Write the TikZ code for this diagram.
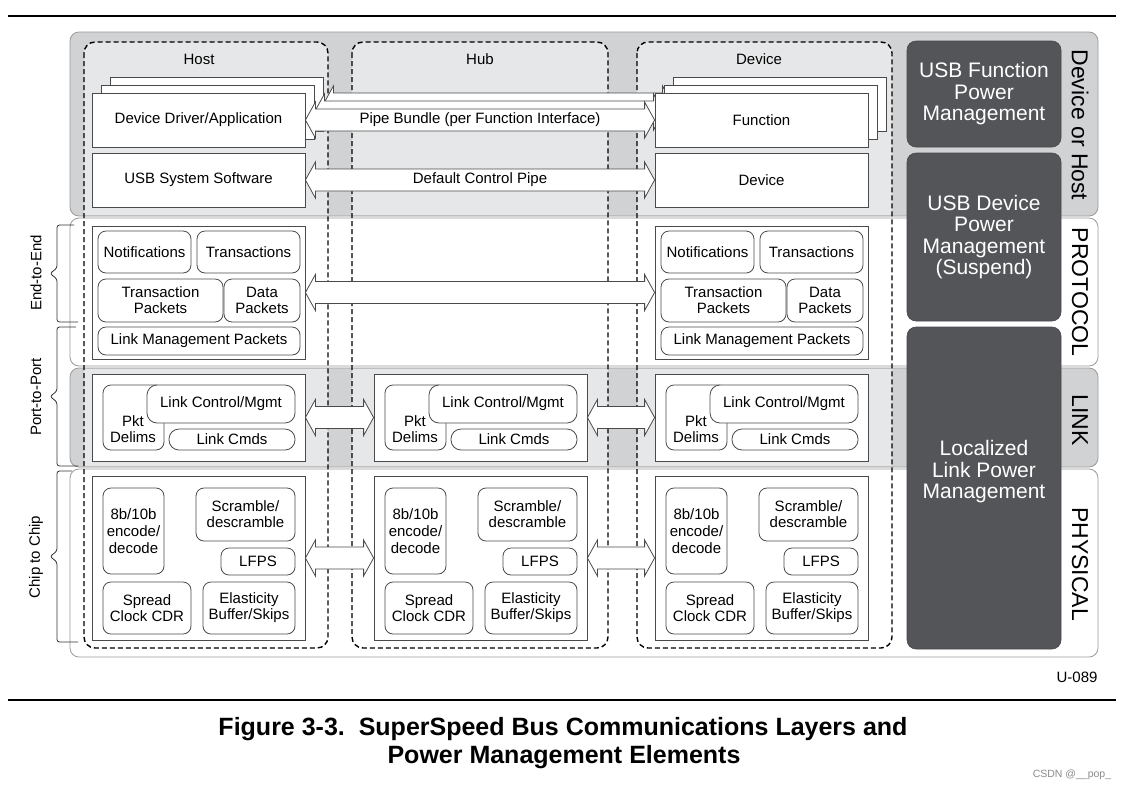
\documentclass[tikz,border=0pt]{standalone}
\usepackage{fontspec}
\setmainfont{Liberation Sans}
\usetikzlibrary{calc}
\definecolor{bandgrey}{HTML}{D1D2D4}
\definecolor{colgrey}{HTML}{E6E7E8}
\definecolor{darkbox}{HTML}{545559}
\definecolor{edge}{HTML}{4A4A4A}
\definecolor{bandedge}{HTML}{9A9A9A}

\newcommand\mkbox[7]{%
  \pgfmathsetmacro\mbX{(#2+#4)/2}%
  \pgfmathsetmacro\mbY{(#3+#5)/2}%
  \pgfmathsetmacro\mbW{#4-#2}%
  \pgfmathsetmacro\mbH{#5-#3}%
  \node[#6, minimum width=\mbW pt, minimum height=\mbH pt] (#1) at (\mbX,\mbY) {#7};}

\newcommand\dblarrow[2]{%
  \draw[pipearrow] let \p1=(#1.east), \p2=(#2.west) in
    (\x1,\y1) -- (\x1+10pt,\y1+18pt) -- (\x1+10pt,\y1+11pt) -- (\x2-10pt,\y1+11pt)
    -- (\x2-10pt,\y1+18pt) -- (\x2,\y1) -- (\x2-10pt,\y1-18pt) -- (\x2-10pt,\y1-11pt)
    -- (\x1+10pt,\y1-11pt) -- (\x1+10pt,\y1-18pt) -- cycle;}

\newcommand\protoblk[1]{%
  \mkbox{#1P}{92}{226}{305}{359}{sqbox}{}%
  \mkbox{#1Pn}{98}{231}{191}{273}{rbox}{Notifications}%
  \mkbox{#1Pt}{197}{231}{300}{273}{rbox}{Transactions}%
  \mkbox{#1Ptp}{98}{279}{223}{322}{rbox}{Transaction\\Packets}%
  \mkbox{#1Pdp}{224}{279}{300}{322}{rbox}{Data\\Packets}%
  \mkbox{#1Plm}{98}{327}{300}{355}{rbox}{Link Management Packets}}

\newcommand\linkblk[1]{%
  \mkbox{#1L}{92}{374}{305}{461}{sqbox}{}%
  \mkbox{#1Lpd}{103}{385}{164}{450}{rbox}{}%
  \node[align=center] (#1Lpdt) at (133,429) {Pkt\\Delims};%
  \mkbox{#1Lcm}{147}{385}{295}{423}{rbox, rounded corners=10pt}{Link Control/Mgmt}%
  \mkbox{#1Lcd}{169}{429}{295}{450}{pillbox}{Link Cmds}}

\newcommand\physblk[1]{%
  \mkbox{#1Y}{92}{476}{305}{640}{sqbox}{}%
  \mkbox{#1Yenc}{103}{488}{164}{574}{rbox, font=\fontsize{15}{16.8}\selectfont}{8b/10b\\encode/\\decode}%
  \mkbox{#1Yscr}{196}{488}{295}{541}{rbox}{Scramble/\\descramble}%
  \mkbox{#1Ylf}{221}{548}{295}{575}{rbox}{LFPS}%
  \mkbox{#1Ysp}{103}{582}{191}{634}{rbox}{Spread\\Clock CDR}%
  \mkbox{#1Yel}{203}{582}{295}{634}{rbox}{Elasticity\\Buffer/Skips}}

\begin{document}
\begin{tikzpicture}[x=1pt,y=-1pt,
  font=\fontsize{15}{16.2}\selectfont,
  sqbox/.style={draw=edge, fill=white, line width=0.8pt, inner sep=0pt, align=center},
  rbox/.style={sqbox, rounded corners=8pt},
  pillbox/.style={sqbox, rounded corners=10pt},
  darkpm/.style={fill=darkbox, draw=darkbox!85!black, line width=0.6pt, rounded corners=9pt, inner sep=0pt},
  pmtext/.style={text=white, font=\fontsize{21}{21.5}\selectfont, align=center},
  sidelbl/.style={rotate=-90, font=\fontsize{23}{25}\selectfont},
  bracelbl/.style={rotate=90},
  bandbox/.style={draw=bandedge, line width=0.8pt, rounded corners=9pt},
  colframe/.style={draw=black, line width=1.4pt, dash pattern=on 5pt off 3pt, rounded corners=11pt},
  pipearrow/.style={draw=edge, fill=white, line width=0.8pt, line join=miter},
  bracepath/.style={draw=black!80, line width=0.8pt, rounded corners=2.5pt}]

\fill[white] (0,0) rectangle (1127,788);
\useasboundingbox (0,0) rectangle (1127,788);

% rules
\draw[line width=1.8pt] (8,16) -- (1116,16);
\draw[line width=1.8pt] (8,700) -- (1116,700);

% layer bands
\draw[bandbox, fill=bandgrey] (70,32) rectangle (1098,216);
\draw[bandbox, fill=white] (70,218) rectangle (1098,366);
\draw[bandbox, fill=bandgrey] (70,368) rectangle (1098,467);
\draw[bandbox, fill=white] (70,469) rectangle (1098,657);

% lighter column interiors in grey bands
\foreach \xa/\xb in {84/328, 352/608, 637/892}{
  \begin{scope}
    \clip[rounded corners=11pt] (\xa,42) rectangle (\xb,648);
    \fill[colgrey] (60,33) rectangle (1100,215.4);
    \fill[colgrey] (60,368.6) rectangle (1100,466.4);
  \end{scope}}

% dashed columns
\draw[colframe] (84,42) rectangle (328,648);
\draw[colframe] (352,42) rectangle (608,648);
\draw[colframe] (637,42) rectangle (892,648);

\node (hostT) at (199,59) {Host};
\node (hubT) at (480,59) {Hub};
\node (devT) at (759,59) {Device};

% pipe bundle stack
\mkbox{hDD2}{110}{77}{323}{131}{sqbox}{}
\mkbox{dF2}{673}{77}{886}{131}{sqbox}{}
\dblarrow{hDD2}{dF2}
\mkbox{hDD1}{101}{85}{314}{139}{sqbox}{}
\mkbox{dF1}{664}{85}{877}{139}{sqbox}{}
\dblarrow{hDD1}{dF1}
\mkbox{hDD}{92}{93}{305}{147}{sqbox}{Device Driver/Application}
\mkbox{dF}{655}{93}{868}{147}{sqbox}{Function}
\dblarrow{hDD}{dF}
\path (hDD.east) -- (dF.west) node[midway] (pipeT) {Pipe Bundle (per Function Interface)};

\mkbox{hSW}{92}{153}{305}{207}{sqbox}{USB System Software}
\mkbox{dDev}{655}{153}{868}{207}{sqbox}{Device}
\dblarrow{hSW}{dDev}
\path (hSW.east) -- (dDev.west) node[midway] (dcpT) {Default Control Pipe};

% protocol
\protoblk{h}
\begin{scope}[xshift=563pt]\protoblk{d}\end{scope}
\dblarrow{hP}{dP}

% link
\linkblk{h}
\begin{scope}[xshift=282pt]\linkblk{b}\end{scope}
\begin{scope}[xshift=563pt]\linkblk{d}\end{scope}
\dblarrow{hL}{bL}
\dblarrow{bL}{dL}

% physical
\physblk{h}
\begin{scope}[xshift=282pt]\physblk{b}\end{scope}
\begin{scope}[xshift=563pt]\physblk{d}\end{scope}
\dblarrow{hY}{bY}
\dblarrow{bY}{dY}

% power management boxes
\mkbox{pmF}{907}{41}{1061}{147}{darkpm, pmtext}{USB Function\\Power\\Management}
\mkbox{pmD}{907}{153}{1061}{321}{darkpm, pmtext}{USB Device\\Power\\Management\\(Suspend)}
\mkbox{pmL}{907}{327}{1061}{649}{darkpm}{}
\node[pmtext] (pmLt) at (984,472) {Localized\\Link Power\\Management};

% side labels
\node[sidelbl] (sDH) at (1080,125) {Device or Host};
\node[sidelbl] (sPR) at (1080,292) {PROTOCOL};
\node[sidelbl] (sLK) at (1080,420) {LINK};
\node[sidelbl] (sPH) at (1080,564) {PHYSICAL};

% braces
\draw[bracepath] (74,225) -- (57,225) -- (57,268) -- (50,273.5) -- (57,279) -- (57,322) -- (78,322);
\draw[bracepath] (76,327) -- (57,327) -- (57,391) -- (50,396.5) -- (57,402) -- (57,466) -- (78,466);
\draw[bracepath] (72,471) -- (57,471) -- (57,551) -- (50,556.5) -- (57,562) -- (57,642) -- (78,642);
\node[bracelbl] (e2eT) at (36,273) {End-to-End};
\node[bracelbl] (p2pT) at (36,397) {Port-to-Port};
\node[bracelbl] (c2cT) at (36,557) {Chip to Chip};

% ids and caption
\node (uid) at (1077,677) {U-089};
\node[anchor=base, font=\bfseries\fontsize{25}{28}\selectfont] (cap1) at (563,735) {Figure 3-3.\ \ SuperSpeed Bus Communications Layers and};
\node[anchor=base, font=\bfseries\fontsize{25}{28}\selectfont] (cap2) at (564,763) {Power Management Elements};
\node[text=black!45, font=\fontsize{10.5}{12}\selectfont] (wm) at (1072,775) {CSDN @\_\_pop\_};
\end{tikzpicture}
\end{document}
